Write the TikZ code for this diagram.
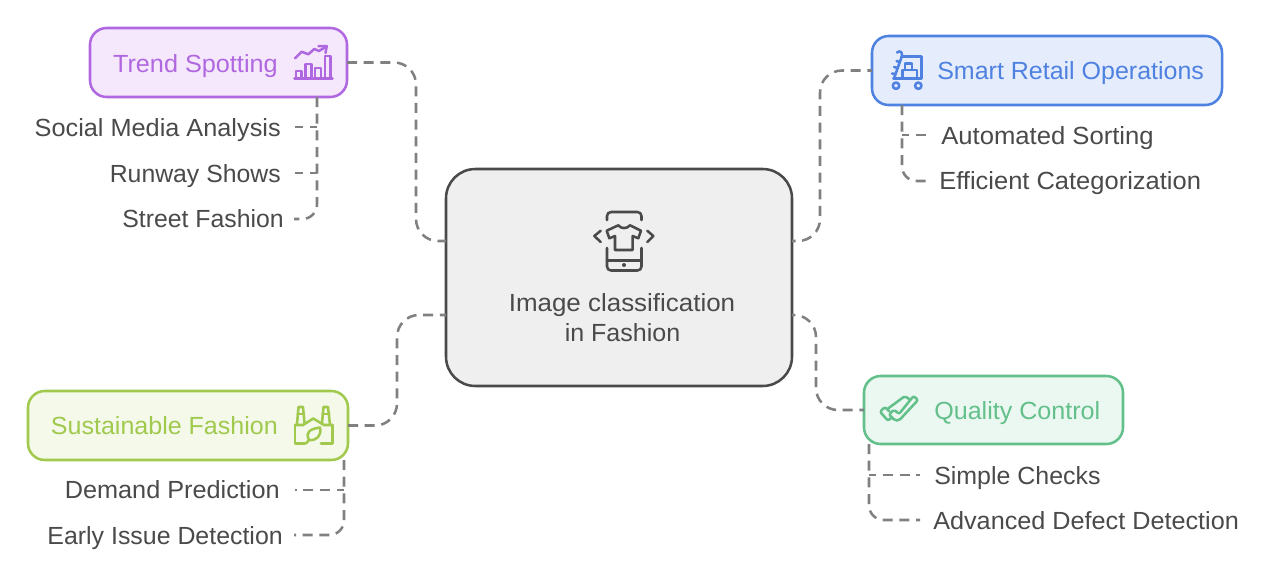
\documentclass[tikz,border=0pt]{standalone}
\usepackage{fontspec}
\setmainfont{Liberation Sans}
\definecolor{inkc}{HTML}{4A4A4A}
\definecolor{linec}{HTML}{808080}
\definecolor{cenf}{HTML}{EFEFEF}
\definecolor{purs}{HTML}{B068E0}
\definecolor{purf}{HTML}{F5E8FD}
\definecolor{blus}{HTML}{4F81E1}
\definecolor{bluf}{HTML}{E5EDFD}
\definecolor{lims}{HTML}{A0C94E}
\definecolor{limf}{HTML}{F4F9E9}
\definecolor{grns}{HTML}{63C08B}
\definecolor{grnf}{HTML}{EBF8F1}
\tikzset{
  x=0.75pt,y=-0.75pt,
  boxnode/.style={draw,rounded corners=12.5pt,line width=1.9pt,outer sep=0pt,inner sep=0pt},
  conn/.style={draw=linec,line width=1.9pt,dash pattern=on 7.5pt off 5pt},
  big/.style={rounded corners=16.5pt},
  curved/.style={rounded corners=11pt},
  branch/.style={draw=linec,line width=1.9pt,dash pattern=on 7.5pt off 5pt,dash phase=2pt},
  leaf/.style={text=inkc,font=\fontsize{18.6pt}{22pt}\selectfont,inner sep=0pt,transform shape},
  title/.style={font=\fontsize{18.6pt}{22pt}\selectfont,inner sep=0pt,transform shape},
  icon/.style={line width=1.9pt,line join=round,line cap=round},
}
\begin{document}
\begin{tikzpicture}
\useasboundingbox (0,0) rectangle (1270,568);
\fill[white] (0,0) rectangle (1270,568);

% boxes
\node[boxnode,draw=inkc,fill=cenf,rounded corners=22pt,minimum width=259.5pt,minimum height=162.75pt] (center) at (619,277.5) {};
\node[boxnode,draw=purs,fill=purf,minimum width=192.75pt,minimum height=51.75pt] (trend) at (218.5,62.5) {};
\node[boxnode,draw=blus,fill=bluf,minimum width=262.5pt,minimum height=51.75pt] (smart) at (1047,70.5) {};
\node[boxnode,draw=lims,fill=limf,minimum width=240pt,minimum height=51.75pt] (sust) at (188,425.5) {};
\node[boxnode,draw=grns,fill=grnf,minimum width=194.25pt,minimum height=51pt] (qual) at (993.5,410) {};

% titles
\node[title,xscale=1.018,text=purs,anchor=base east] (trendt) at (278,72) {Trend Spotting};
\node[title,xscale=1.008,text=blus,anchor=base west] (smartt) at (937,79) {Smart Retail Operations};
\node[title,xscale=1.009,text=lims,anchor=base east] (sustt) at (278,434) {Sustainable Fashion};
\node[title,xscale=1.012,text=grns,anchor=base west] (qualt) at (934,419) {Quality Control};
\node[leaf,xscale=1.046,anchor=base] (cent1) at (622,311) {Image classification};
\node[leaf,xscale=1.009,anchor=base] (cent2) at (622.5,341) {in Fashion};

% leaves
\node[leaf,xscale=1.02,anchor=base east] (l1) at (281,136) {Social Media Analysis};
\node[leaf,anchor=base east] (l2) at (281,182) {Runway Shows};
\node[leaf,anchor=base east] (l3) at (284,227) {Street Fashion};
\node[leaf,xscale=1.019,anchor=base east] (l4) at (280,498) {Demand Prediction};
\node[leaf,xscale=1.004,anchor=base east] (l5) at (283,544) {Early Issue Detection};
\node[leaf,xscale=1.034,anchor=base west] (l6) at (941,144) {Automated Sorting};
\node[leaf,xscale=1.028,anchor=base west] (l7) at (939,189) {Efficient Categorization};
\node[leaf,xscale=1.006,anchor=base west] (l8) at (934,484) {Simple Checks};
\node[leaf,xscale=1.017,anchor=base west] (l9) at (933,529) {Advanced Defect Detection};

% ports
\coordinate (cnw) at (446,241);
\coordinate (csw) at (446,315);
\coordinate (cne) at (792,241);
\coordinate (cse) at (792,315);
\coordinate (ma) at (416,150);
\coordinate (mb) at (397,370);
\coordinate (mc) at (820,150);
\coordinate (md) at (816,360);
\coordinate (tb) at (317,97);
\coordinate (sb) at (344,460);
\coordinate (rb) at (902,105);
\coordinate (qb) at (869,444);
\coordinate (e1) at (295,127);
\coordinate (e2) at (295,173);
\coordinate (e3) at (294,219);
\coordinate (e4) at (295,490);
\coordinate (e5) at (294,535);
\coordinate (e6) at (926,135);
\coordinate (e7) at (928,181);
\coordinate (e8) at (920,475);
\coordinate (e9) at (920,520);

% main connectors
\draw[conn,big] (trend.east) -| (ma) |- (cnw);
\draw[conn,big] (sust.east) -| (mb) |- (csw);
\draw[conn,big,dash phase=4pt] (smart.west) -| (mc) |- (cne);
\draw[conn,big,dash phase=4pt] (qual.west) -| (md) |- (cse);

% leaf connectors
\draw[conn,curved] (tb) |- (e3);
\draw[branch] (tb |- e1) -- (e1);
\draw[branch] (tb |- e2) -- (e2);
\draw[conn,curved] (sb) |- (e5);
\draw[branch] (sb |- e4) -- (e4);
\draw[conn,curved] (rb) |- (e7);
\draw[branch] (rb |- e6) -- (e6);
\draw[conn,curved] (qb) |- (e9);
\draw[branch] (qb |- e8) -- (e8);

% centre icon
\begin{scope}[icon,draw=inkc]
\draw[rounded corners=3pt] (607,220) -- (607,212) -- (641.5,212) -- (641.5,220);
\draw[rounded corners=3pt] (607,248) -- (607,270.5) -- (641.5,270.5) -- (641.5,248);
\draw (607,260.5) -- (641.5,260.5);
\fill[inkc] (624,265) circle[radius=1.5pt];
\draw (600.7,230.7) -- (594.3,236) -- (600.7,242);
\draw (647.3,230.7) -- (653.3,236) -- (647.3,242);
\draw (618.3,225.3) .. controls (621,229) and (627,229) .. (630,225.3) -- (641,230.7) -- (638.3,238.3) -- (632.7,236) -- (632.7,250) -- (615,250) -- (615,236) -- (609.3,238.3) -- (606.7,230.7) -- cycle;
\end{scope}

% trend icon
\begin{scope}[icon,draw=purs]
\draw (294.5,78.5) -- (332.5,78.5);
\draw (296,78.5) -- (296,71) -- (301.5,71) -- (301.5,78.5);
\draw (305.7,78.5) -- (305.7,64) -- (311.5,64) -- (311.5,78.5);
\draw (315,78.5) -- (315,68) -- (321,68) -- (321,78.5);
\draw (325,78.5) -- (325,56) -- (330.7,56) -- (330.7,78.5);
\draw (295,58.3) -- (301.7,51.7) -- (308.3,54.3) -- (314.3,49) -- (319,51) -- (326.5,46.5);
\draw (318.5,46.2) -- (326.7,46.2) -- (325.5,53);
\end{scope}

% factory icon
\begin{scope}[icon,draw=lims]
\draw (295,425) -- (295,443.5) -- (305,443.5);
\draw (321,443.5) -- (332.7,443.5) -- (332.7,425);
\draw (295,425) -- (303,425) -- (313.3,418.5) -- (324,425) -- (332.7,425);
\draw (297,424) -- (298.5,407) -- (303,407) -- (304.5,423);
\draw (322,423) -- (323.5,407) -- (328,407) -- (330,425);
\draw (297.5,414) -- (304,414);
\draw (322.5,414) -- (329.5,414);
\draw (309,440) .. controls (305,432) and (310,429) .. (320,427.5) .. controls (322,436) and (316,441) .. (309,440) -- (306,443.5);
\end{scope}

% cart icon
\begin{scope}[icon,draw=blus]
\draw (901.7,56.7) -- (921.7,56.7) -- (921.7,78.3) -- (893.3,78.3);
\draw (901.7,56.7) -- (894,78.3);
\draw (896,85.7) circle[radius=2.4pt];
\draw (918.3,85.7) circle[radius=2.4pt];
\draw (897,52.5) .. controls (900,50) and (903,52) .. (901.7,56.7);
\draw (896.5,61) -- (899.5,62);
\draw (894,67) -- (897.5,68);
\draw (892,73.5) -- (895.5,74);
\draw (902.5,78.3) -- (902.5,70) -- (917,70) -- (917,78.3);
\draw (905,70) -- (905,63.5) -- (912,63.5) -- (912,70);
\end{scope}

% check icon
\begin{scope}[icon,draw=grns]
\draw[rounded corners=1.5pt] (889,411) -- (885,407) -- (880,411.7) -- (888,420.7) -- (891.7,417.5);
\draw[rounded corners=1.5pt] (889,414.5) -- (894,409.5) -- (899,414) -- (913.5,396) -- (918,400) -- (899,420.5) -- (895,420.5) -- cycle;
\draw[rounded corners=1.5pt] (888.3,408.3) -- (905,396) -- (909.3,399.3);
\end{scope}
\end{tikzpicture}
\end{document}
